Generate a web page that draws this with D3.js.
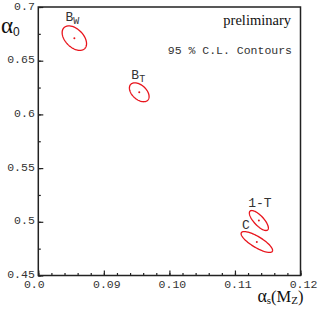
<!DOCTYPE html>
<html><head><meta charset="utf-8">
<script src="https://cdn.jsdelivr.net/npm/d3@7"></script>
<style>
html,body{margin:0;padding:0;background:#fff;}
svg{display:block;}
</style></head>
<body>
<svg id="chart" width="319" height="327"></svg>
<script>
// ---- data ----
const labels    = ["B", "B", "1-T", "C"];
const subscripts= ["W", "T", "", ""];
const alphaS    = [0.0855, 0.0954, 0.11365, 0.11334];   // centre x
const alpha0    = [0.671, 0.6206, 0.5012, 0.4812];       // centre y
const sigmaX    = [0.00186, 0.0015, 0.00145, 0.0024];    // half-width of contour
const sigmaY    = [0.0114, 0.0088, 0.0093, 0.0097];      // half-height of contour
const rho       = [-0.45, -0.45, -0.75, -0.8];           // correlation
const xTicks    = [0.08, 0.09, 0.10, 0.11, 0.12];
const xTickLabels = ["0.0", "0.09", "0.10", "0.11", "0.12"];
const yTicks    = [0.45, 0.5, 0.55, 0.6, 0.65, 0.7];
const yTickLabels = ["0.45", "0.5", "0.55", "0.6", "0.65", "0.7"];

const svg = d3.select("#chart");
const L = 38.3, R = 300.5, T = 7, B = 275.5;
const x = d3.scaleLinear().domain([0.08, 0.12]).range([L, R]);
const y = d3.scaleLinear().domain([0.45, 0.7]).range([B, T]);
const mono = "'Liberation Mono', 'DejaVu Sans Mono', monospace";
const serif = "'Liberation Serif', 'DejaVu Serif', serif";

// axes with inward ticks
const xMinor = d3.range(0, 21).map(i => 0.08 + i * 0.002);
const yMinor = d3.range(0, 11).map(i => 0.45 + i * 0.025);

const gx = svg.append("g").attr("transform", `translate(0,${B})`);
gx.call(d3.axisBottom(x).tickValues(xMinor).tickSize(-2.5).tickFormat(""));
gx.select(".domain").remove();
const gx2 = svg.append("g").attr("transform", `translate(0,${B})`);
gx2.call(d3.axisBottom(x).tickValues(xTicks).tickSize(-5).tickFormat(""));
gx2.select(".domain").remove();

const gy = svg.append("g").attr("transform", `translate(${L},0)`);
gy.call(d3.axisLeft(y).tickValues(yMinor).tickSize(-2.5).tickFormat(""));
gy.select(".domain").remove();
const gy2 = svg.append("g").attr("transform", `translate(${L},0)`);
gy2.call(d3.axisLeft(y).tickValues(yTicks).tickSize(-5).tickFormat(""));
gy2.select(".domain").remove();
svg.selectAll(".tick line").attr("stroke", "#222").attr("stroke-width", 1.2);

// frame
svg.append("rect").attr("x", L).attr("y", T).attr("width", R - L).attr("height", B - T)
  .attr("fill", "none").attr("stroke", "#222").attr("stroke-width", 1.5);

// tick labels
svg.append("g").selectAll("text").data(xTicks).join("text")
  .attr("x", (d, i) => x(d) + (i === 0 ? -4 : 3))
  .attr("y", B + 12.5)
  .attr("text-anchor", "middle")
  .attr("font-family", mono).attr("font-size", 11.5).attr("fill", "#333")
  .text((d, i) => xTickLabels[i]);
svg.append("g").selectAll("text").data(yTicks).join("text")
  .attr("x", L - 3.5)
  .attr("y", d => y(d) + 2.5)
  .attr("text-anchor", "end")
  .attr("font-family", mono).attr("font-size", 11.5).attr("fill", "#333")
  .text((d, i) => yTickLabels[i]);

// axis titles
const yt = svg.append("text").attr("x", 1).attr("y", 33).attr("font-family", serif).attr("fill", "#111");
yt.append("tspan").attr("font-size", 23).text("α");
yt.append("tspan").attr("font-size", 12).attr("font-family", "'Liberation Sans', Arial, sans-serif").attr("dy", 3).text("0");

const xt = svg.append("text").attr("x", 303.5).attr("y", 302).attr("text-anchor", "end").attr("font-family", serif).attr("fill", "#111");
xt.append("tspan").attr("font-size", 18).text("α");
xt.append("tspan").attr("font-size", 11).attr("dy", 2).text("s");
xt.append("tspan").attr("font-size", 16.5).attr("dy", -2).text("(M");
xt.append("tspan").attr("font-size", 11).attr("dy", 2).text("Z");
xt.append("tspan").attr("font-size", 16.5).attr("dy", -2).text(")");

// annotations
svg.append("text").attr("x", 291).attr("y", 25).attr("text-anchor", "end")
  .attr("font-family", serif).attr("font-size", 14.5).attr("fill", "#111").text("preliminary");
svg.append("text").attr("x", 292).attr("y", 54).attr("text-anchor", "end")
  .attr("font-family", mono).attr("font-size", 11.5).attr("fill", "#333").text("95 % C.L. Contours");

// contours
const idx = d3.range(labels.length);
const ts = d3.range(0, 120).map(i => i / 120 * 2 * Math.PI);
const line = d3.line().x(p => x(p[0])).y(p => y(p[1])).curve(d3.curveLinearClosed);
svg.append("g").selectAll("path").data(idx).join("path")
  .attr("d", i => line(ts.map(t => [
     alphaS[i] + sigmaX[i] * Math.cos(t),
     alpha0[i] + sigmaY[i] * (rho[i] * Math.cos(t) + Math.sqrt(1 - rho[i] * rho[i]) * Math.sin(t))
  ])))
  .attr("fill", "none").attr("stroke", "#e8141c").attr("stroke-width", 1.3);
svg.append("g").selectAll("circle").data(idx).join("circle")
  .attr("cx", i => x(alphaS[i])).attr("cy", i => y(alpha0[i])).attr("r", 1)
  .attr("fill", "#e8141c");

// contour labels
const labelDx = [-2, -1, 1, -11];
const labelDy = [-4.5, -4, -4, -2.5];
const lg = svg.append("g").selectAll("text").data(idx).join("text")
  .attr("x", i => x(alphaS[i]) + labelDx[i])
  .attr("y", i => y(alpha0[i] + sigmaY[i]) + labelDy[i])
  .attr("text-anchor", "middle")
  .attr("font-family", mono).attr("font-size", 13).attr("fill", "#333");
lg.append("tspan").text(i => labels[i]);
lg.append("tspan").attr("font-size", 10).attr("dy", 3).text(i => subscripts[i]);
</script>
</body></html>
